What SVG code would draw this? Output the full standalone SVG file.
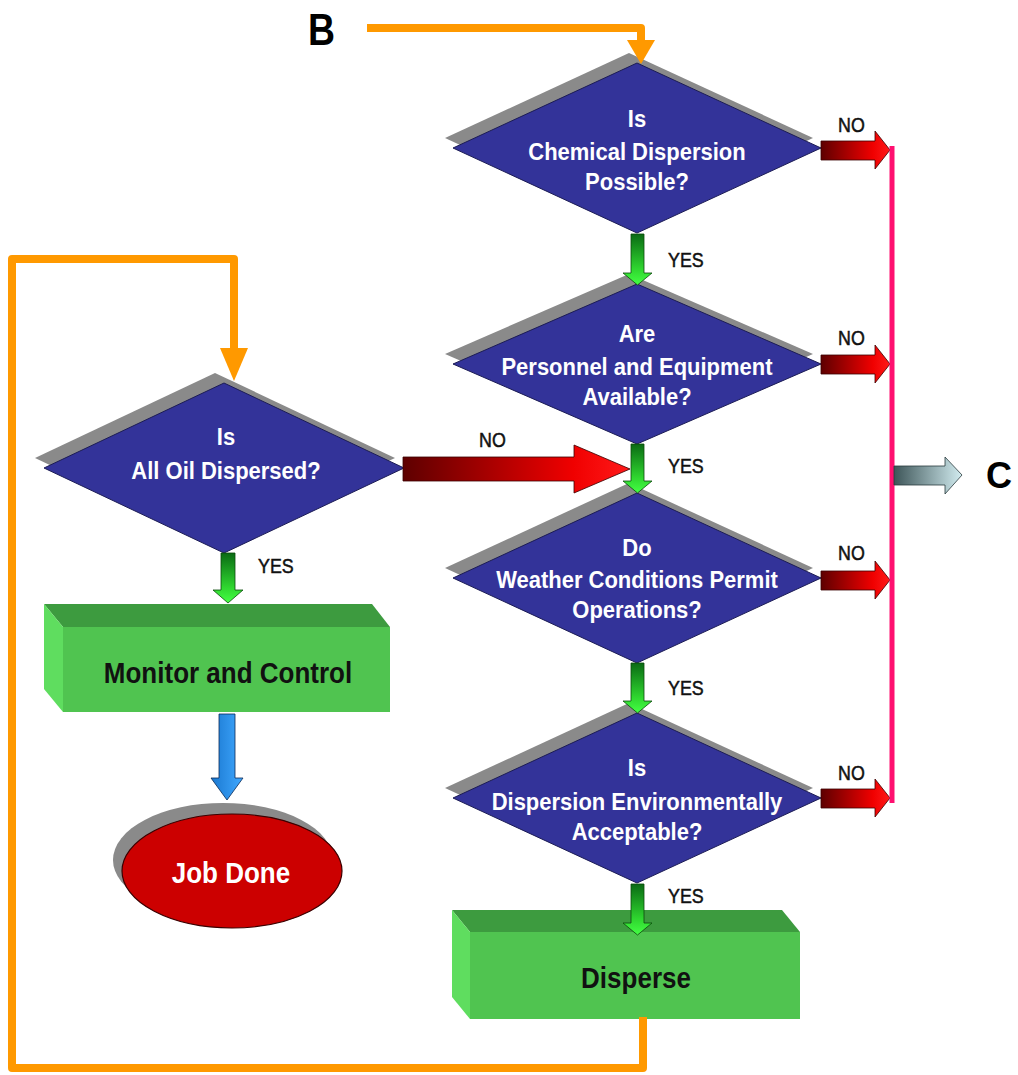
<svg xmlns="http://www.w3.org/2000/svg" width="1018" height="1075" viewBox="0 0 1018 1075">
  <style>
    .dia { fill: #333399; stroke: #1c1c55; stroke-width: 1; }
    .shadow { fill: #8a8a8a; }
    .q { font-family: "Liberation Sans", Arial, sans-serif; font-weight: bold; font-size: 22px; fill: #ffffff; text-anchor: middle; }
    .lbl { font-family: "Liberation Sans", Arial, sans-serif; font-size: 21px; fill: #111111; stroke: #111111; stroke-width: 0.5; }
    .boxtxt { font-family: "Liberation Sans", Arial, sans-serif; font-weight: bold; font-size: 26px; fill: #111111; text-anchor: middle; }
    .big { font-family: "Liberation Sans", Arial, sans-serif; font-weight: bold; fill: #000000; }
    .front { fill: #50c450; }
    .top { fill: #3d9b3f; }
    .side { fill: #5fdd5f; }
    .orange { fill: none; stroke: #ff9900; stroke-width: 8; stroke-linejoin: round; }
    .ohead { fill: #ff9900; }
    .yes { fill: url(#gGreen); stroke: #0a4a0a; stroke-width: 0.8; }
    .no { fill: url(#gRed); stroke: #3a0000; stroke-width: 0.8; }
  </style>
  <defs>
    <linearGradient id="gGreen" x1="0" y1="0" x2="0" y2="1">
      <stop offset="0" stop-color="#0a6a14"/>
      <stop offset="0.7" stop-color="#30d830"/>
      <stop offset="1" stop-color="#44ff44"/>
    </linearGradient>
    <linearGradient id="gRed" x1="0" y1="0" x2="1" y2="0">
      <stop offset="0" stop-color="#5e0000"/>
      <stop offset="0.75" stop-color="#f00000"/>
      <stop offset="1" stop-color="#ff1a1a"/>
    </linearGradient>
    <linearGradient id="gBlue" x1="0" y1="0" x2="1" y2="0">
      <stop offset="0" stop-color="#1a78d0"/>
      <stop offset="1" stop-color="#40a8ff"/>
    </linearGradient>
    <linearGradient id="gGrey" x1="0" y1="0" x2="1" y2="0">
      <stop offset="0" stop-color="#3d5558"/>
      <stop offset="1" stop-color="#d2ecf0"/>
    </linearGradient>
  </defs>

  <rect width="1018" height="1075" fill="#ffffff"/>

  <!-- off-page references -->
  <text class="big" font-size="44" transform="translate(308,45) scale(0.85,1)">B</text>
  <text class="big" font-size="36" x="986" y="488">C</text>

  <!-- decision: chemical dispersion -->
  <g id="q-chemical">
    <polygon class="shadow" points="629,53 813,138 629,223 445,138"/>
    <polygon class="dia" points="637,63 821,148 637,233 453,148"/>
    <text class="q" transform="translate(637,127) scale(1,1.08)">Is</text>
    <text class="q" transform="translate(637,160) scale(1,1.08)">Chemical Dispersion</text>
    <text class="q" transform="translate(637,190) scale(1,1.08)">Possible?</text>
  </g>

  <!-- decision: personnel and equipment -->
  <g id="q-personnel">
    <polygon class="shadow" points="629,274 813,354 629,434 445,354"/>
    <polygon class="dia" points="637,284 821,364 637,444 453,364"/>
    <text class="q" transform="translate(637,342) scale(1,1.08)">Are</text>
    <text class="q" transform="translate(637,375) scale(1,1.08)">Personnel and Equipment</text>
    <text class="q" transform="translate(637,405) scale(1,1.08)">Available?</text>
  </g>

  <!-- decision: weather -->
  <g id="q-weather">
    <polygon class="shadow" points="629,483 813,568 629,653 445,568"/>
    <polygon class="dia" points="637,493 821,578 637,663 453,578"/>
    <text class="q" transform="translate(637,556) scale(1,1.08)">Do</text>
    <text class="q" transform="translate(637,588) scale(1,1.08)">Weather Conditions Permit</text>
    <text class="q" transform="translate(637,618) scale(1,1.08)">Operations?</text>
  </g>

  <!-- decision: environmental acceptability -->
  <g id="q-environment">
    <polygon class="shadow" points="629,703 813,788 629,873 445,788"/>
    <polygon class="dia" points="637,713 821,798 637,883 453,798"/>
    <text class="q" transform="translate(637,776) scale(1,1.08)">Is</text>
    <text class="q" transform="translate(637,810) scale(1,1.08)">Dispersion Environmentally</text>
    <text class="q" transform="translate(637,840) scale(1,1.08)">Acceptable?</text>
  </g>

  <!-- decision: all oil dispersed -->
  <g id="q-alloil">
    <polygon class="shadow" points="215,373 395,458 215,543 35,458"/>
    <polygon class="dia" points="224,383 404,468 224,553 44,468"/>
    <text class="q" transform="translate(226,445) scale(1,1.08)">Is</text>
    <text class="q" transform="translate(226,479) scale(1,1.08)">All Oil Dispersed?</text>
  </g>

  <!-- process: monitor and control -->
  <g id="monitor">
    <polygon class="top" points="44,604 372,604 390,627 63,627"/>
    <polygon class="side" points="44,604 63,627 63,712 44,689"/>
    <rect class="front" x="63" y="627" width="327" height="85"/>
    <text class="boxtxt" transform="translate(228,683) scale(1,1.12)">Monitor and Control</text>
  </g>

  <!-- terminator: job done -->
  <g id="job-done">
    <ellipse cx="223" cy="860" rx="110" ry="57" fill="#8a8a8a"/>
    <ellipse cx="232" cy="871" rx="110" ry="57" fill="#cc0000" stroke="#3a0000" stroke-width="1.2"/>
    <text class="boxtxt" transform="translate(231,883) scale(1,1.12)" style="fill:#ffffff">Job Done</text>
  </g>

  <!-- process: disperse -->
  <g id="disperse">
    <polygon class="top" points="452,910 782,910 800,932 470,932"/>
    <polygon class="side" points="452,910 470,932 470,1019 452,997"/>
    <rect class="front" x="470" y="932" width="330" height="87"/>
    <text class="boxtxt" transform="translate(636,988) scale(1,1.12)">Disperse</text>
  </g>

  <g id="connectors">
    <!-- entry from B -->
    <path class="orange" d="M367,28 H641 V42"/>
    <polygon class="ohead" points="627,40 655,40 641,64"/>

    <!-- loop back from Disperse to the all-oil check -->
    <path class="orange" d="M643,1017 V1068 H12 V259 H234 V350"/>
    <polygon class="ohead" points="220,348 248,348 234,381"/>

    <!-- YES arrows -->
    <polygon class="yes" points="631,234 644,234 644,273 652,273 637.5,285 623,273 631,273"/>
    <polygon class="yes" points="631,444 644,444 644,481 652,481 637.5,493 623,481 631,481"/>
    <polygon class="yes" points="631,663 644,663 644,701 652,701 637.5,713 623,701 631,701"/>
    <polygon class="yes" points="631,884 644,884 644,923 652,923 637.5,935 623,923 631,923"/>
    <polygon class="yes" points="221,553 235,553 235,590 243,590 228,603 213,590 221,590"/>

    <!-- NO arrows into the collector -->
    <polygon class="no" points="821,141 875,141 875,131 890,150 875,169 875,160 821,160"/>
    <polygon class="no" points="821,355 875,355 875,345 890,364 875,383 875,374 821,374"/>
    <polygon class="no" points="821,571 875,571 875,561 890,580 875,599 875,590 821,590"/>
    <polygon class="no" points="821,789 875,789 875,779 890,798 875,817 875,808 821,808"/>

    <!-- NO from all-oil check back into the chain -->
    <polygon class="no" points="403,457 574,457 574,445 630,469 574,493 574,481 403,481"/>

    <!-- collector line and exit to C -->
    <line x1="892" y1="146" x2="892" y2="803" stroke="#ff1070" stroke-width="5"/>
    <polygon points="894,466 945,466 945,457 962,475 945,494 945,485 894,485" fill="url(#gGrey)" stroke="#2a3a3c" stroke-width="0.8"/>

    <!-- monitor to job done -->
    <polygon points="219,714 235,714 235,778 243,778 227,800 211,778 219,778" fill="url(#gBlue)" stroke="#0a2a55" stroke-width="0.8"/>

    <!-- labels -->
    <text class="lbl" transform="translate(668,267) scale(0.85,1)">YES</text>
    <text class="lbl" transform="translate(668,473) scale(0.85,1)">YES</text>
    <text class="lbl" transform="translate(668,695) scale(0.85,1)">YES</text>
    <text class="lbl" transform="translate(668,903) scale(0.85,1)">YES</text>
    <text class="lbl" transform="translate(258,573) scale(0.85,1)">YES</text>
    <text class="lbl" transform="translate(838,132) scale(0.85,1)">NO</text>
    <text class="lbl" transform="translate(838,345) scale(0.85,1)">NO</text>
    <text class="lbl" transform="translate(838,560) scale(0.85,1)">NO</text>
    <text class="lbl" transform="translate(838,780) scale(0.85,1)">NO</text>
    <text class="lbl" transform="translate(479,447) scale(0.85,1)">NO</text>
  </g>
</svg>
